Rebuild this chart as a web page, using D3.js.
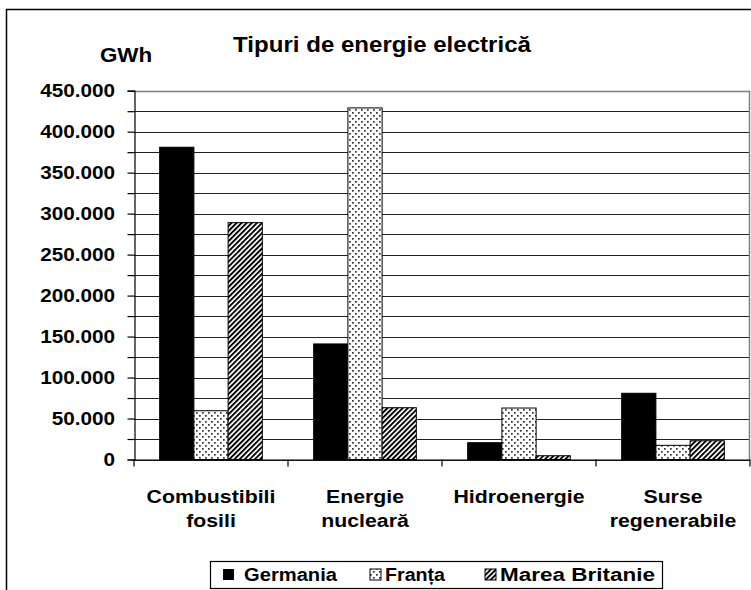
<!DOCTYPE html>
<html><head><meta charset="utf-8">
<script src="https://cdn.jsdelivr.net/npm/d3@7"></script>
<style>html,body{margin:0;padding:0;background:#fff;}svg{display:block;}</style>
</head><body>
<script>
const categories = [["Combustibili","fosili"],["Energie","nucleară"],["Hidroenergie"],["Surse","regenerabile"]];
const seriesNames = ["Germania","Franța","Marea Britanie"];
const germania = [381000, 141000, 20500, 80800];
const franta = [59500, 429000, 62800, 17300];
const mareaBritanie = [289000, 63200, 4600, 22900];
const yTicks = [0,50000,100000,150000,200000,250000,300000,350000,400000,450000];
const title = "Tipuri de energie electrică";
const unit = "GWh";

const W = 751, H = 590, SX = 1.12;
const FONT = "'Liberation Sans', Arial, sans-serif";
const svg = d3.select("body").append("svg").attr("width", W).attr("height", H);
const defs = svg.append("defs");
const dots = defs.append("pattern").attr("id","dots").attr("patternUnits","userSpaceOnUse").attr("width",6).attr("height",6);
dots.append("rect").attr("width",6).attr("height",6).attr("fill","#fff");
dots.append("rect").attr("x",1).attr("y",1).attr("width",1.7).attr("height",1.7).attr("fill","#333");
dots.append("rect").attr("x",4).attr("y",4).attr("width",1.7).attr("height",1.7).attr("fill","#333");
const hatch = defs.append("pattern").attr("id","hatch").attr("patternUnits","userSpaceOnUse").attr("width",3.6).attr("height",10).attr("patternTransform","rotate(45)");
hatch.append("rect").attr("width",3.6).attr("height",10).attr("fill","#fff");
hatch.append("rect").attr("width",1.9).attr("height",10).attr("fill","#000");
const fills = ["#000","url(#dots)","url(#hatch)"];

// outer border
svg.append("rect").attr("x",6.5).attr("y",9.5).attr("width",800).attr("height",700).attr("fill","none").attr("stroke","#000").attr("stroke-width",1.5);

const x0 = 134, x1 = 750, yTop = 90.7, yBot = 459.5;
const y = d3.scaleLinear().domain([0,450000]).range([yBot,yTop]);
const x = d3.scaleBand().domain(d3.range(categories.length)).range([x0,x1]).paddingInner(0).paddingOuter(0);
// Excel gap width 150%: 4.5w = band, outer padding 0.75w each side
const bw = x.bandwidth()/4.5;
const barX = (c,s) => x(c) + 0.75*bw + s*bw;

// gridlines every 25k
const grid = d3.range(0, 450001, 25000);
svg.append("g").selectAll("line").data(grid).join("line")
  .attr("x1",x0).attr("x2",x1).attr("y1",d=>Math.round(y(d))+0.5).attr("y2",d=>Math.round(y(d))+0.5)
  .attr("stroke",d=>d===450000?"#808080":"#222").attr("stroke-width",d=>d===450000?1.5:1.2);
svg.append("line").attr("x1",x1-0.5).attr("x2",x1-0.5).attr("y1",yTop).attr("y2",yBot).attr("stroke","#808080").attr("stroke-width",1.5);

// bars
const series = [germania, franta, mareaBritanie];
series.forEach((vals,s)=>{
  svg.append("g").selectAll("rect").data(vals).join("rect")
    .attr("x",(d,i)=>barX(i,s)).attr("width",bw)
    .attr("y",d=>y(d)).attr("height",d=>yBot-y(d))
    .attr("fill",fills[s]).attr("stroke","#000").attr("stroke-width",1);
});

// y axis
const yAxis = d3.axisLeft(y).tickValues(grid).tickSize(7).tickFormat("");
const ya = svg.append("g").attr("transform",`translate(${x0+0.5},0)`).call(yAxis);
ya.select(".domain").attr("stroke","#000").attr("stroke-width",1.2);
ya.selectAll(".tick line").attr("stroke","#000").attr("stroke-width",1.2);
// x axis
svg.append("line").attr("x1",x0).attr("x2",x1).attr("y1",yBot+0.5).attr("y2",yBot+0.5).attr("stroke","#000").attr("stroke-width",1.2);
svg.append("g").selectAll("line").data(d3.range(categories.length+1)).join("line")
  .attr("x1",i=>x0+i*x.bandwidth()).attr("x2",i=>x0+i*x.bandwidth())
  .attr("y1",yBot).attr("y2",yBot+7).attr("stroke","#000").attr("stroke-width",1.2);

function txt(str, tx, ty, size, anchor){
  return svg.append("text").attr("transform",`translate(${tx},${ty}) scale(${SX},1)`)
    .attr("text-anchor",anchor||"middle").attr("font-family",FONT).attr("font-weight","bold")
    .attr("font-size",size).attr("fill","#000").text(str);
}
const fmt = v => v===0 ? "0" : d3.format(",")(v).replace(/,/g,".");
yTicks.forEach(v=> txt(fmt(v), 115, y(v)+6.5, 18.5, "end"));

txt(title, 382, 52, 21.5);
txt(unit, 126, 62, 20);

categories.forEach((lines,i)=>{
  lines.forEach((l,j)=> txt(l, x(i)+x.bandwidth()/2, 503+j*24, 19));
});

// legend
svg.append("rect").attr("x",210.5).attr("y",561.5).attr("width",452).attr("height",27).attr("fill","#fff").attr("stroke","#000").attr("stroke-width",1.2);
const legX = [223, 370, 485];
const legW = [93, 60, 155];
seriesNames.forEach((n,s)=>{
  svg.append("rect").attr("x",legX[s]).attr("y",569).attr("width",11).attr("height",11).attr("fill",fills[s]).attr("stroke","#000").attr("stroke-width",s===0?0:1);
  txt(n, legX[s]+(s===0?21:15), 581, 17.5, "start")
    .attr("textLength", legW[s]/SX).attr("lengthAdjust","spacingAndGlyphs");
});
</script>
</body></html>
